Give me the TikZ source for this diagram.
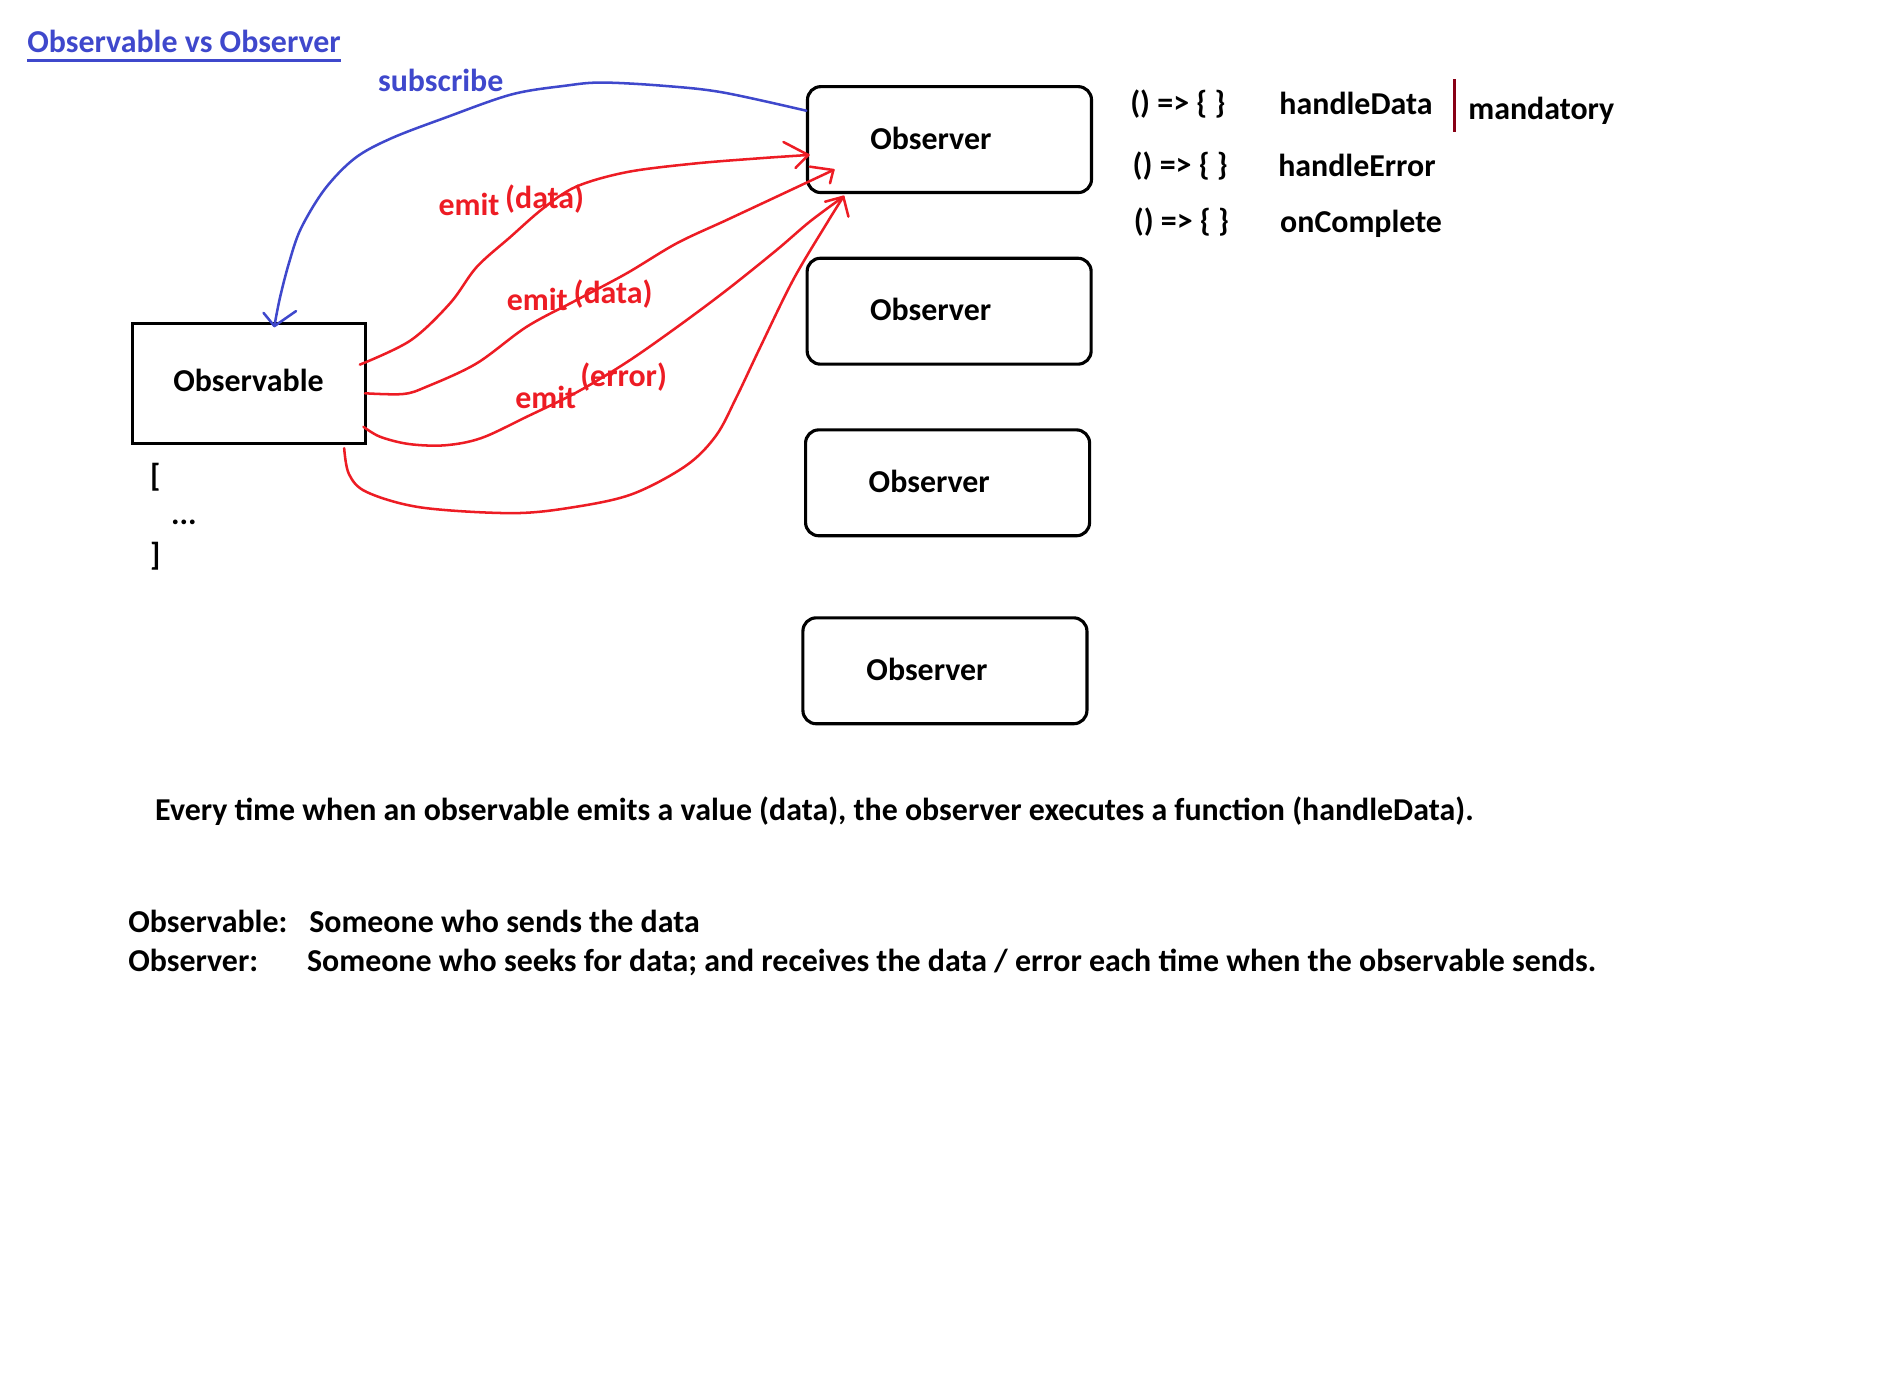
\documentclass[tikz,border=0pt]{standalone}
\usepackage{fontspec}
\setmainfont{Carlito}
\usetikzlibrary{calc}
\definecolor{pred}{HTML}{ED1C24}
\definecolor{pblue}{HTML}{3F48CC}
\definecolor{pdark}{HTML}{880015}
\begin{document}
\begin{tikzpicture}[x=1pt,y=-1pt,
  font=\fontsize{26.5}{31}\selectfont\bfseries,
  txt/.style={inner sep=0pt, anchor=base west},
  ctxt/.style={inner sep=0pt, anchor=base},
  obsbox/.style={draw, line width=2.6pt, rounded corners=11pt, minimum width=236pt, minimum height=88pt, inner sep=0pt},
  srcbox/.style={draw, line width=2.4pt, minimum width=194pt, minimum height=99.5pt, inner sep=0pt},
  redline/.style={draw=pred, line width=2.1pt, line cap=round, line join=round},
  blueline/.style={draw=pblue, line width=2.1pt, line cap=round, line join=round}]
\useasboundingbox (0,0) rectangle (1567.2,1145.1);

% title
\node[txt, text=pblue] (title) at (22.5,44) {Observable vs Observer};
\draw[pblue, line width=2.6pt] ($(title.base west)+(0,6.5)$) -- ($(title.base east)+(0,6.5)$);

% boxes
\node[srcbox] (obs) at (207,318.9) {};
\node[ctxt] (obstext) at (206.5,325) {Observable};

\node[obsbox] (o1) at (789,116) {};
\node[obsbox] (o2) at (788.7,258.6) {};
\node[obsbox] (o3) at (787.4,401.2) {};
\node[obsbox] (o4) at (785.2,557.4) {};
\node[ctxt] (o1t) at (773.5,124) {Observer};
\node[ctxt] (o2t) at (773.3,266) {Observer};
\node[ctxt] (o3t) at (772.2,409) {Observer};
\node[ctxt] (o4t) at (770.3,565.6) {Observer};

% array brackets
\node[txt] (lb) at (124.5,404) {[};
\node[txt] (dots) at (142,436) {...};
\node[txt] (rb) at (124.5,470) {]};

% callbacks
\node[txt] (f1) at (939,94) {() => \{ \}};
\node[txt] (f2) at (941,145.5) {() => \{ \}};
\node[txt] (f3) at (942,192.5) {() => \{ \}};
\node[txt] (h1) at (1063,95) {handleData};
\node[txt] (h2) at (1062,146.3) {handleError};
\node[txt] (h3) at (1063.6,193.3) {onComplete};
\coordinate (mt) at (1208.8,65.9);
\coordinate (mb) at (1208.8,109.4);
\draw[pdark, line width=2.6pt] (mt) -- (mb);
\node[txt] (mand) at (1220,99.7) {mandatory};

% bottom text
\node[txt] (every) at (128.8,682) {Every time when an observable emits a value (data), the observer executes a function (handleData).};
\node[txt] (d1a) at (106.4,775) {Observable:};
\node[txt] (d1b) at (256.8,775) {Someone who sends the data};
\node[txt] (d2a) at (106.4,807.5) {Observer:};
\node[txt] (d2b) at (255,807.5) {Someone who seeks for data; and receives the data / error each time when the observable sends.};

% subscribe
\node[txt, text=pblue] (sub) at (314,76) {subscribe};
\coordinate (bs) at (670,92);
\coordinate (bt) at (228,271);
\draw[blueline] plot[smooth, tension=0.55] coordinates {(bs) (600,76.7) (550,71.2) (500,68.6) (470,71.2) (425,78.5) (370,97.8) (325,115) (295,131.4) (270,157) (250,190) (240,219) (232.5,248) (bt)};
\draw[blueline] (219,260) -- (bt) -- (246,258.5);

% emit curves
\coordinate (s1) at (299,303);
\coordinate (s2) at (303.3,326.8);
\coordinate (s3) at (302,354.6);
\coordinate (s4) at (286,372.4);
\coordinate (t1) at (671.7,128.8);
\coordinate (t2) at (692.5,141.3);
\coordinate (t3) at (700.8,163.5);

\draw[redline] plot[smooth, tension=0.55] coordinates {(s1) (341,283) (374,252) (396,222) (424,197) (451.5,173) (479,155) (521,143) (576,136) (631.5,131.5) (t1)};
\draw[redline] (651,118) -- (t1) -- (661,139.6);

\draw[redline] plot[smooth, tension=0.55] coordinates {(s2) (335,327.4) (354.6,321.3) (396,302) (437.7,271.5) (479.2,249.3) (520.8,227.1) (562.3,202.2) (603.9,182.8) (645.4,163.4) (t2)};
\draw[redline] (673,138.5) -- (t2) -- (689.7,152.3);

\draw[redline] plot[smooth, tension=0.55] coordinates {(s3) (315.8,362.9) (340,369) (370,370) (400,364) (437.7,346.3) (479.2,326) (520.8,301) (562.3,272) (603.9,241) (645.4,207.7) (673.1,184) (t3)};
\draw[redline] plot[smooth, tension=0.55] coordinates {(s4) (290,394) (305,409) (350,421.7) (425,426.4) (475,421.7) (525,410.7) (570,387) (595,362) (612,330) (631,290) (659,232.7) (687,185.6) (t3)};
\draw[redline] (685.6,167.6) -- (t3) -- (705,180);

% emit labels
\node[txt, text=pred] (e1) at (364.2,178.7) {emit};
\node[txt, text=pred] (e1d) at (419.6,173.1) {(data)};
\node[txt, text=pred] (e2) at (421,258.2) {emit};
\node[txt, text=pred] (e2d) at (476.4,252) {(data)};
\node[txt, text=pred] (e3) at (428,339.3) {emit};
\node[txt, text=pred] (e3d) at (482,320.8) {(error)};
\end{tikzpicture}
\end{document}
